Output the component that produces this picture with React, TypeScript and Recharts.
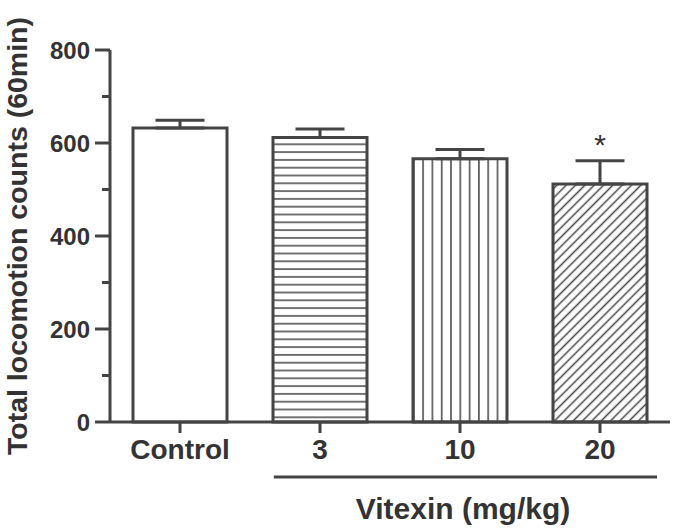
import { BarChart, Bar, XAxis, YAxis, Cell, ErrorBar, ReferenceDot } from 'recharts'

// values
const groups = ['Control', '3', '10', '20']
const means = [632, 612, 566, 512]
const sems = [17, 18, 20, 50]
const marks = ['', '', '', '*']
const yTicks = [0, 100, 200, 300, 400, 500, 600, 700, 800]

const INK = '#444444'
const TEXT = '#333333'
const FONT = '"Liberation Sans", Arial, sans-serif'

const fills = ['#ffffff', 'url(#hLines)', 'url(#vLines)', 'url(#diagLines)']

const data = groups.map((g, i) => ({ group: g, mean: means[i], err: [0, sems[i]] }))

function YTick({ x, y, payload }: any) {
  const axisX = x + 18
  const major = payload.value % 200 === 0
  return (
    <g>
      <line x1={axisX - (major ? 15 : 8)} x2={axisX} y1={y} y2={y} stroke={INK} strokeWidth={3} />
      {major && (
        <text x={x - 2} y={y} dy={8.5} textAnchor="end" fontSize={24} fontWeight="bold" fill={TEXT}>
          {payload.value}
        </text>
      )}
    </g>
  )
}

function YTitle({ viewBox }: any) {
  const cy = viewBox.y + viewBox.height / 2
  return (
    <text transform={`translate(27, ${cy}) rotate(-90)`} textAnchor="middle" fontSize={28.5} fontWeight="bold" fill={TEXT}>
      Total locomotion counts (60min)
    </text>
  )
}

function DoseBracket({ viewBox }: any) {
  const { x, y, width } = viewBox
  const x1 = x + width * 0.2925
  const x2 = x + width * 0.9768
  return (
    <g>
      <line x1={x1} x2={x2} y1={y + 55} y2={y + 55} stroke={INK} strokeWidth={3} />
      <text x={x + width * 0.6304} y={y + 97} textAnchor="middle" fontSize={30} fontWeight="bold" fill={TEXT}>
        Vitexin (mg/kg)
      </text>
    </g>
  )
}

export default function App() {
  return (
    <div style={{ position: 'absolute', left: 0, top: 0, fontFamily: FONT, background: '#fff' }}>
      <BarChart width={675} height={529} data={data} margin={{ top: 50, right: 5, bottom: 0, left: 0 }}>
        <defs>
          <pattern id="hLines" patternUnits="userSpaceOnUse" width={10} height={7.8}>
            <line x1={0} x2={10} y1={3.9} y2={3.9} stroke={INK} strokeWidth={1.5} />
          </pattern>
          <pattern id="vLines" patternUnits="userSpaceOnUse" width={9.3} height={10}>
            <line x1={4.6} x2={4.6} y1={0} y2={10} stroke={INK} strokeWidth={1.5} />
          </pattern>
          <pattern id="diagLines" patternUnits="userSpaceOnUse" width={6.6} height={10} patternTransform="rotate(45)">
            <line x1={3.3} x2={3.3} y1={0} y2={10} stroke={INK} strokeWidth={1.5} />
          </pattern>
        </defs>
        <XAxis
          dataKey="group"
          height={107}
          tickSize={11}
          tickMargin={6}
          axisLine={{ stroke: INK, strokeWidth: 3 }}
          tickLine={{ stroke: INK, strokeWidth: 3 }}
          tick={{ fontSize: 28, fontWeight: 'bold', fill: TEXT }}
          label={{ content: DoseBracket }}
        />
        <YAxis
          width={110}
          domain={[0, 800]}
          ticks={yTicks}
          interval={0}
          tickSize={15}
          tickMargin={3}
          tickLine={false}
          axisLine={{ stroke: INK, strokeWidth: 3 }}
          tick={YTick}
          label={{ content: YTitle }}
        />
        <Bar dataKey="mean" barSize={94} stroke={INK} strokeWidth={3} isAnimationActive={false}>
          {data.map((d, i) => (
            <Cell key={d.group} fill={fills[i]} />
          ))}
          <ErrorBar dataKey="err" width={24.5} stroke={INK} strokeWidth={3} direction="y" isAnimationActive={false} />
        </Bar>
        {groups.map((g, i) =>
          marks[i] ? (
            <ReferenceDot
              key={g}
              x={g}
              y={means[i] + sems[i]}
              r={0}
              fill="none"
              stroke="none"
              label={{ value: marks[i], position: 'top', offset: 6, fontSize: 30, fill: TEXT }}
            />
          ) : null
        )}
      </BarChart>
    </div>
  )
}
